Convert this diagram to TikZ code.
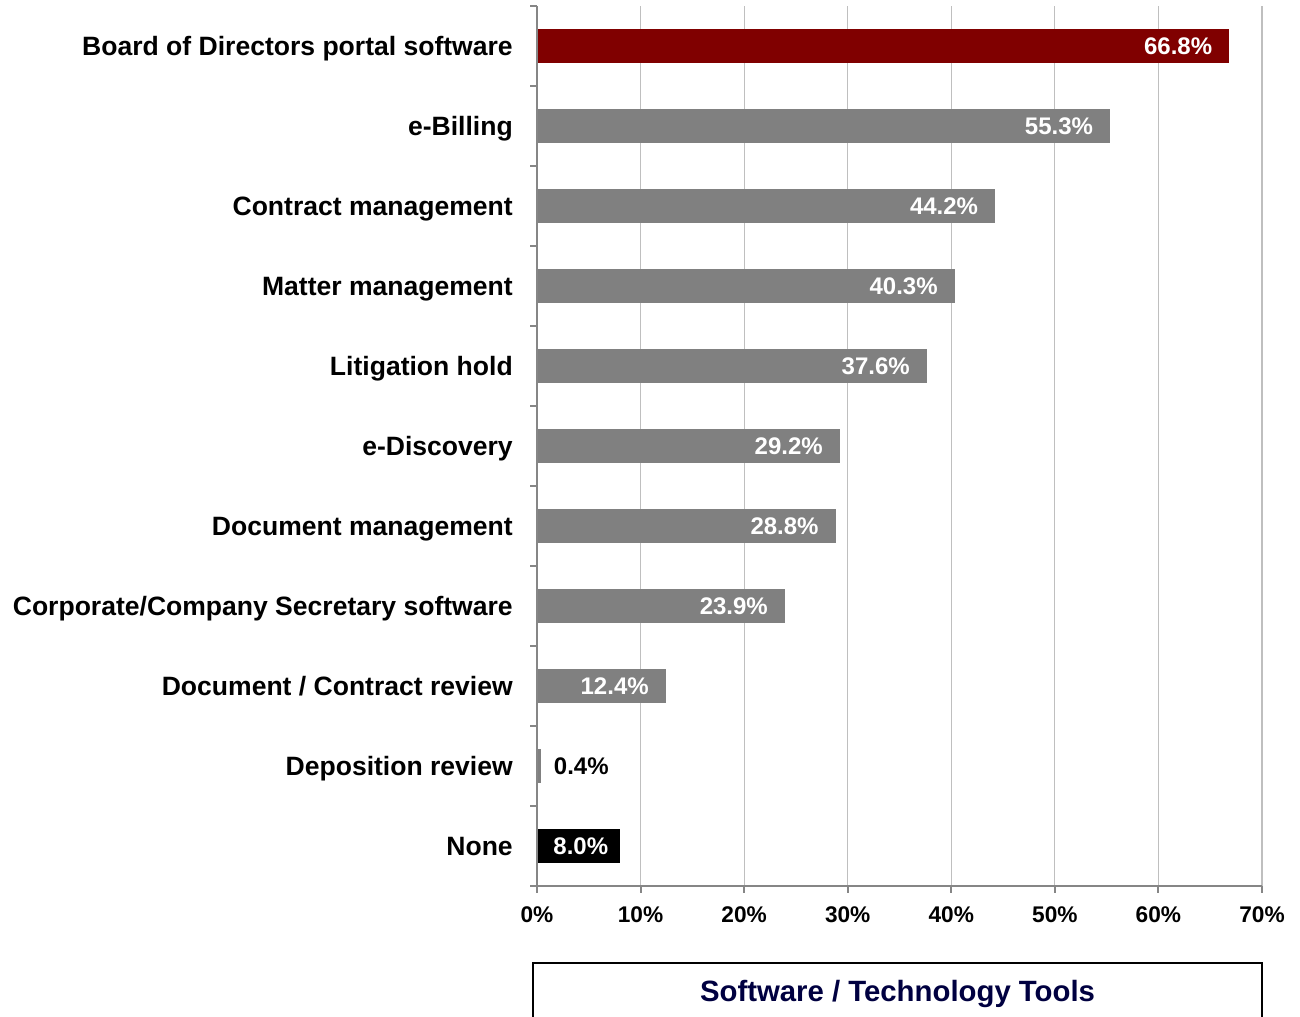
\documentclass[tikz,border=0pt]{standalone}
\usepackage{fontspec}
\setmainfont{Liberation Sans}
\usetikzlibrary{positioning}
\definecolor{barrojo}{HTML}{800000}
\definecolor{bargris}{HTML}{808080}
\definecolor{ejegris}{HTML}{868686}
\definecolor{rejilla}{HTML}{BFBFBF}
\definecolor{titazul}{HTML}{000040}
\tikzset{
	categoria/.style={inner sep=0pt, text height=14.25pt, text depth=0pt,
		font=\bfseries\fontsize{19.9}{24}\selectfont},
	barra/.style={rectangle, anchor=west, inner sep=0pt, minimum height=25.5pt,
		fill=bargris},
	valor/.style={inner sep=0pt, text height=12.9pt, text depth=0pt, text=white,
		font=\bfseries\fontsize{18}{22}\selectfont},
	marca/.style={inner sep=0pt, text height=12.2pt, text depth=0pt,
		font=\bfseries\fontsize{17}{20}\selectfont},
	eje/.style={draw=ejegris, line width=1.5pt},
	rejillalinea/.style={draw=rejilla, line width=0.8pt},
	cajatitulo/.style={rectangle, draw=black, line width=1pt, inner sep=0pt,
		text height=15.75pt, text depth=0pt,
		minimum width=546.75pt, minimum height=42pt, text=titazul,
		font=\bfseries\fontsize{22}{26}\selectfont}
}

\begin{document}
\begin{tikzpicture}[x=0.75pt,y=-0.75pt]
			\useasboundingbox (0,0) rectangle (1300,1017);
			
			% rejilla
			\foreach \k in {1,...,7}
				\draw[rejillalinea] (537+103.57*\k,6) -- (537+103.57*\k,886);
			
			% barras
			\node[barra, fill=barrojo, minimum width=66.8*7.768pt] (b1) at (537,46) {};
			\node[barra, minimum width=55.3*7.768pt] (b2) at (537,126) {};
			\node[barra, minimum width=44.2*7.768pt] (b3) at (537,206) {};
			\node[barra, minimum width=40.3*7.768pt] (b4) at (537,286) {};
			\node[barra, minimum width=37.6*7.768pt] (b5) at (537,366) {};
			\node[barra, minimum width=29.2*7.768pt] (b6) at (537,446) {};
			\node[barra, minimum width=28.8*7.768pt] (b7) at (537,526) {};
			\node[barra, minimum width=23.9*7.768pt] (b8) at (537,606) {};
			\node[barra, minimum width=12.4*7.768pt] (b9) at (537,686) {};
			\node[barra, minimum width=0.4*7.768pt] (b10) at (537,766) {};
			\node[barra, fill=black, minimum width=8.0*7.768pt] (b11) at (537,846) {};
			
			% valores
			\node[valor, left=12.75pt of b1.east] (v1) {66.8\%};
			\node[valor, left=12.75pt of b2.east] (v2) {55.3\%};
			\node[valor, left=12.75pt of b3.east] (v3) {44.2\%};
			\node[valor, left=12.75pt of b4.east] (v4) {40.3\%};
			\node[valor, left=12.75pt of b5.east] (v5) {37.6\%};
			\node[valor, left=12.75pt of b6.east] (v6) {29.2\%};
			\node[valor, left=12.75pt of b7.east] (v7) {28.8\%};
			\node[valor, left=12.75pt of b8.east] (v8) {23.9\%};
			\node[valor, left=12.75pt of b9.east] (v9) {12.4\%};
			\node[valor, text=black, right=9pt of b10.east] (v10) {0.4\%};
			\node[valor, left=9pt of b11.east] (v11) {8.0\%};
			
			% categorias
			\node[categoria, left=18pt of b1.west] (c1) {Board of Directors portal software};
			\node[categoria, left=18pt of b2.west] (c2) {e-Billing};
			\node[categoria, left=18pt of b3.west] (c3) {Contract management};
			\node[categoria, left=18pt of b4.west] (c4) {Matter management};
			\node[categoria, left=18pt of b5.west] (c5) {Litigation hold};
			\node[categoria, left=18pt of b6.west] (c6) {e-Discovery};
			\node[categoria, left=18pt of b7.west] (c7) {Document management};
			\node[categoria, left=18pt of b8.west] (c8) {Corporate/Company Secretary software};
			\node[categoria, left=18pt of b9.west] (c9) {Document / Contract review};
			\node[categoria, left=18pt of b10.west] (c10) {Deposition review};
			\node[categoria, left=18pt of b11.west] (c11) {None};
			
			% ejes
			\draw[eje] (537,6) -- (537,886) -- (1262,886);
			\foreach \y in {6,86,...,886}
				\draw[eje] (530,\y) -- (537,\y);
			\foreach \k in {0,...,7}{
				\draw[eje] (537+103.57*\k,886) -- (537+103.57*\k,893);
				\pgfmathtruncatemacro{\pct}{10*\k}
				\node[marca] (m\k) at (537+103.57*\k,914) {\pct\%};
			}
			
			\node[cajatitulo] (titulo) at (897.5,991) {Software / Technology Tools};
		\end{tikzpicture}
\end{document}
